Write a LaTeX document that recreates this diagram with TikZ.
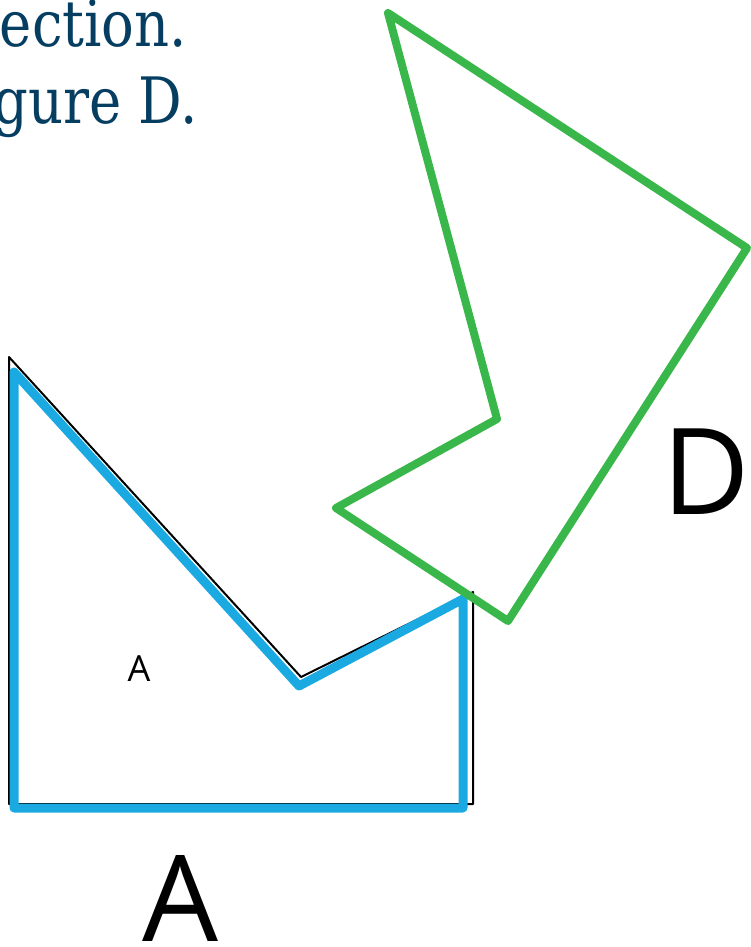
\documentclass[tikz,border=0pt]{standalone}
\usepackage{fontspec}
\setsansfont{Open Sans}
\newfontfamily\slabfont[FakeStretch=0.85]{DejaVu Serif}
\definecolor{shapeblue}{RGB}{27,169,225}
\definecolor{shapegreen}{RGB}{58,183,74}
\definecolor{textblue}{RGB}{6,62,98}
\begin{document}
\begin{tikzpicture}[x=1pt, y=-1pt, line join=round]
    \useasboundingbox (0,0) rectangle (751,947);
    % clipped caption text
    \node[textblue, anchor=base east, inner sep=0] (capone) at (187,47) {\slabfont\fontsize{64}{64}\selectfont ection.};
    \node[textblue, anchor=base east, inner sep=0] (captwo) at (198,124) {\slabfont\fontsize{64}{64}\selectfont gure D.};
    % figure A, outline
    \coordinate (Ktop) at (9,357);
    \coordinate (Knotch) at (301,677);
    \coordinate (Kright) at (473,592);
    \coordinate (Kbr) at (473,804);
    \coordinate (Kbl) at (9,804);
    \draw[line width=2pt] (Ktop) -- (Knotch) -- (Kright) -- (Kbr) -- (Kbl) -- cycle;
    % figure A, blue
    \coordinate (Atop) at (14,372);
    \coordinate (Anotch) at (299,686);
    \coordinate (Aright) at (463,599);
    \coordinate (Abr) at (463,808);
    \coordinate (Abl) at (14,808);
    \draw[shapeblue, line width=9pt] (Atop) -- (Anotch) -- (Aright) -- (Abr) -- (Abl) -- cycle;
    % figure D
    \coordinate (Dtop) at (388,13);
    \coordinate (Dright) at (747,248);
    \coordinate (Dbottom) at (508,621);
    \coordinate (Dleft) at (336,508);
    \coordinate (Dnotch) at (497,419);
    \draw[shapegreen, line width=8pt] (Dtop) -- (Dright) -- (Dbottom) -- (Dleft) -- (Dnotch) -- cycle;
    % labels
    \node[font=\sffamily\fontsize{36}{36}\selectfont, inner sep=0] (smalla) at (139,669) {A};
    \node[font=\sffamily\fontsize{120}{120}\selectfont, inner sep=0] (biga) at (180,898) {A};
    \node[font=\sffamily\fontsize{120}{120}\selectfont, inner sep=0] (bigd) at (706,472) {D};
\end{tikzpicture}
\end{document}
